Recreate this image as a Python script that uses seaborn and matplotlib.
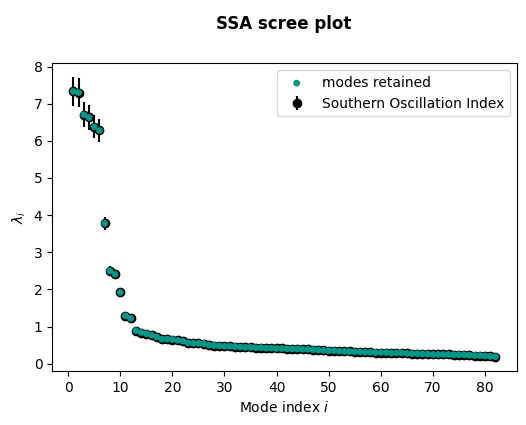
#!/usr/bin/env python3
"""SSA scree plot of the Southern Oscillation Index
"""

import numpy as np
import pandas as pd
import matplotlib
matplotlib.use("Agg")
import matplotlib.pyplot as plt
import seaborn as sns


# eigenvalues, modes 1..82
modes = list(range(1, 83))
eigvals = [
    7.33, 7.30, 6.70, 6.63, 6.38, 6.28, 3.78, 2.50, 2.41, 1.92,
    1.29, 1.22, 0.89, 0.84, 0.81, 0.77, 0.72, 0.66, 0.66, 0.65,
    0.63, 0.61, 0.56, 0.55, 0.55, 0.54, 0.50, 0.49, 0.48, 0.47,
    0.47, 0.46, 0.45, 0.44, 0.44, 0.43, 0.43, 0.42, 0.42, 0.41,
    0.41, 0.40, 0.40, 0.40, 0.39, 0.39, 0.38, 0.37, 0.36, 0.35,
    0.35, 0.34, 0.33, 0.33, 0.32, 0.32, 0.31, 0.31, 0.30, 0.30,
    0.30, 0.29, 0.29, 0.29, 0.28, 0.27, 0.27, 0.26, 0.26, 0.25,
    0.25, 0.25, 0.25, 0.24, 0.24, 0.24, 0.23, 0.22, 0.22, 0.21,
    0.20, 0.19,
]
errors = [
    0.38, 0.38, 0.34, 0.33, 0.31, 0.30, 0.18, 0.12, 0.12, 0.09,
    0.06, 0.06, 0.04, 0.04, 0.04, 0.04, 0.04, 0.03, 0.03, 0.03,
    0.03, 0.03, 0.03, 0.03, 0.03, 0.03, 0.02, 0.02, 0.02, 0.02,
    0.02, 0.02, 0.02, 0.02, 0.02, 0.02, 0.02, 0.02, 0.02, 0.02,
    0.02, 0.02, 0.02, 0.02, 0.02, 0.02, 0.02, 0.02, 0.02, 0.02,
    0.02, 0.02, 0.02, 0.02, 0.02, 0.02, 0.02, 0.02, 0.02, 0.02,
    0.02, 0.01, 0.01, 0.01, 0.01, 0.01, 0.01, 0.01, 0.01, 0.01,
    0.01, 0.01, 0.01, 0.01, 0.01, 0.01, 0.01, 0.01, 0.01, 0.01,
    0.01, 0.01,
]
series_label = "Southern Oscillation Index"
retained_label = "modes retained"


def main():
    df = pd.DataFrame({"mode": modes, "eig": eigvals, "err": errors})

    fig = plt.figure(figsize=(5.26, 4.25), dpi=100)
    ax = fig.add_axes([0.0994, 0.127, 0.8826, 0.724])

    ax.errorbar(df["mode"], df["eig"], yerr=df["err"], fmt="o", color="k",
                markersize=6, label=series_label)
    sns.scatterplot(data=df, x="mode", y="eig", color="#009688", s=24,
                    edgecolor="none", linewidth=0, zorder=3,
                    label=retained_label, ax=ax)

    ax.set_xlabel("Mode index $i$")
    ax.set_ylabel(r"$\lambda_i$")
    ax.legend(loc="upper right")
    fig.suptitle("SSA scree plot", fontweight="bold", fontsize=12,
                 x=0.54, y=0.965)

    fig.savefig("out.png", dpi=100)


if __name__ == "__main__":
    main()
